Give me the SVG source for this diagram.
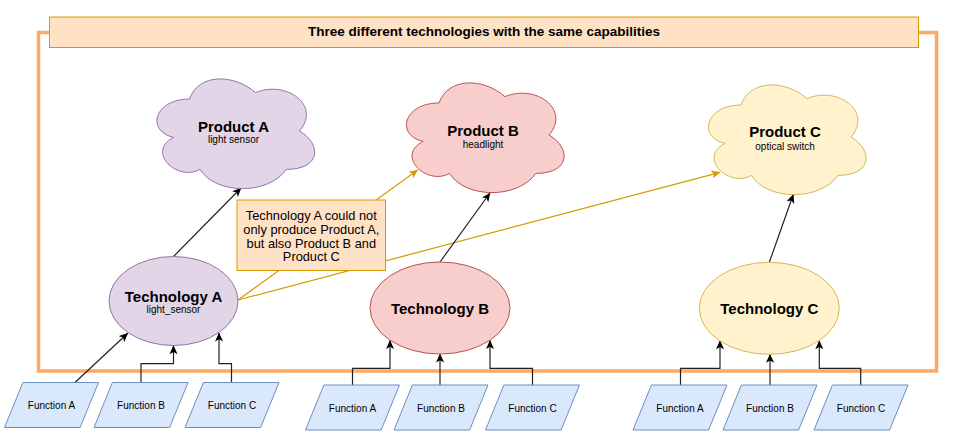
<svg xmlns="http://www.w3.org/2000/svg" width="975" height="443" viewBox="0 0 975 443">
<style>
text{font-family:"Liberation Sans",Arial,sans-serif;fill:#000;text-anchor:middle;dominant-baseline:central}
.b{font-weight:bold}
.t15{font-size:15px}
.t10{font-size:10px}
.fn{fill:#dae8fc;stroke:#6c8ebf;stroke-width:1}
.ln{fill:none;stroke:#222;stroke-width:1.2}
.or{fill:none;stroke:#d79b00;stroke-width:1.2}
</style>
<defs>
<path id="cloud" d="M44,32 C8.8,32 0,64 28.16,70.4 C0,84.48 31.68,115.2 54.56,102.4 C70.4,128 123.2,128 140.8,102.4 C176,102.4 176,76.8 154,64 C176,38.4 140.8,12.8 110,25.6 C88,6.4 52.8,6.4 44,32 Z"/>
<marker id="ab" viewBox="0 0 10 10" refX="9.5" refY="5" markerWidth="9" markerHeight="9" orient="auto" markerUnits="userSpaceOnUse">
<path d="M0,0.5 L10,5 L0,9.5 L2.5,5 Z" fill="#000"/>
</marker>
<marker id="ao" viewBox="0 0 10 10" refX="9.5" refY="5" markerWidth="9" markerHeight="9" orient="auto" markerUnits="userSpaceOnUse">
<path d="M0,0.5 L10,5 L0,9.5 L2.5,5 Z" fill="#d79b00"/>
</marker>
</defs>
<g id="frame">
<rect x="38.5" y="32.5" width="898" height="338.5" fill="none" stroke="#ffa860" stroke-width="3.5"/>
</g>
<g id="title">
<rect x="49.5" y="17" width="869" height="30.5" fill="#ffe2c6" stroke="#d79b00" stroke-width="1"/>
<text class="b" x="484" y="31.7" font-size="13.5">Three different technologies with the same capabilities</text>
</g>
<g id="connectors">
<path class="or" d="M238,300 L417.7,170" marker-end="url(#ao)"/>
<path class="or" d="M238,300 L720,172.3" marker-end="url(#ao)"/>
<path class="ln" d="M173.5,256.5 L241,188" marker-end="url(#ab)"/>
<path class="ln" d="M440,262 L490,193" marker-end="url(#ab)"/>
<path class="ln" d="M769.3,262.3 L793.3,194.5" marker-end="url(#ab)"/>
<path class="ln" d="M75,382.5 L127.7,333.3" marker-end="url(#ab)"/>
<path class="ln" d="M141,382.5 V363.7 H173.5 V345.7" marker-end="url(#ab)"/>
<path class="ln" d="M231.5,382.5 V363.7 H219 V333" marker-end="url(#ab)"/>
<path class="ln" d="M352.5,385 V368.3 H390 V340.5" marker-end="url(#ab)"/>
<path class="ln" d="M440,385 V354" marker-end="url(#ab)"/>
<path class="ln" d="M532.5,385 V368.3 H490 V340.5" marker-end="url(#ab)"/>
<path class="ln" d="M680.5,385 V368.3 H720 V340.8" marker-end="url(#ab)"/>
<path class="ln" d="M770,385 V354.3" marker-end="url(#ab)"/>
<path class="ln" d="M860.7,385 V368.3 H819.3 V340.8" marker-end="url(#ab)"/>
</g>
<g id="productA">
<use href="#cloud" transform="translate(145.5,67)" fill="#e1d5e7" stroke="#9673a6" stroke-width="1"/>
<text class="b t15" x="233.5" y="126">Product A</text>
<text class="t10" x="233.5" y="139.5">light sensor</text>
</g>
<g id="productB">
<use href="#cloud" transform="translate(395,71)" fill="#f8cecc" stroke="#b85450" stroke-width="1"/>
<text class="b t15" x="483" y="130.7">Product B</text>
<text class="t10" x="483" y="144.5">headlight</text>
</g>
<g id="productC">
<use href="#cloud" transform="translate(697,73)" fill="#fff2cc" stroke="#d6b656" stroke-width="1"/>
<text class="b t15" x="785" y="131.7">Product C</text>
<text class="t10" x="785" y="146.3">optical switch</text>
</g>
<g id="callout">
<rect x="237" y="200" width="148.5" height="70.5" fill="#ffe2c6" stroke="#d79b00" stroke-width="1"/>
<text x="311.3" y="215.7" font-size="12.8">Technology A could not</text>
<text x="311.3" y="229.3" font-size="12.8">only produce Product A,</text>
<text x="311.3" y="243" font-size="12.8">but also Product B and</text>
<text x="311.3" y="256.7" font-size="12.8">Product C</text>
</g>
<g id="techA">
<ellipse cx="173.5" cy="301" rx="64.5" ry="44.5" fill="#e1d5e7" stroke="#9673a6" stroke-width="1"/>
<text class="b t15" x="173.5" y="296">Technology A</text>
<text class="t10" x="173.5" y="309.3">light_sensor</text>
</g>
<g id="techB">
<ellipse cx="440" cy="308" rx="70" ry="46" fill="#f8cecc" stroke="#b85450" stroke-width="1"/>
<text class="b t15" x="440" y="308.7">Technology B</text>
</g>
<g id="techC">
<ellipse cx="769.3" cy="308.3" rx="70" ry="46" fill="#fff2cc" stroke="#d6b656" stroke-width="1"/>
<text class="b t15" x="769.3" y="308.7">Technology C</text>
</g>
<g id="fA1"><polygon class="fn" points="22.9,382.5 98.5,382.5 80.1,427.5 4.5,427.5"/><text class="t10" x="51.5" y="405.3">Function A</text></g>
<g id="fB1"><polygon class="fn" points="112.4,382.5 188,382.5 169.6,427.5 94,427.5"/><text class="t10" x="141" y="405.3">Function B</text></g>
<g id="fC1"><polygon class="fn" points="203.4,382.5 279,382.5 260.6,427.5 185,427.5"/><text class="t10" x="232" y="405.3">Function C</text></g>
<g id="fA2"><polygon class="fn" points="323.9,385 399.5,385 381.1,430 305.5,430"/><text class="t10" x="352.5" y="408.3">Function A</text></g>
<g id="fB2"><polygon class="fn" points="412.4,385 488,385 469.6,430 394,430"/><text class="t10" x="441" y="408.3">Function B</text></g>
<g id="fC2"><polygon class="fn" points="503.9,385 579.5,385 561.1,430 485.5,430"/><text class="t10" x="532.5" y="408.3">Function C</text></g>
<g id="fA3"><polygon class="fn" points="651.4,385 727,385 708.6,430 633,430"/><text class="t10" x="680" y="408.3">Function A</text></g>
<g id="fB3"><polygon class="fn" points="741.4,385 817,385 798.6,430 723,430"/><text class="t10" x="770" y="408.3">Function B</text></g>
<g id="fC3"><polygon class="fn" points="832.4,385 908,385 889.6,430 814,430"/><text class="t10" x="861" y="408.3">Function C</text></g>
</svg>
